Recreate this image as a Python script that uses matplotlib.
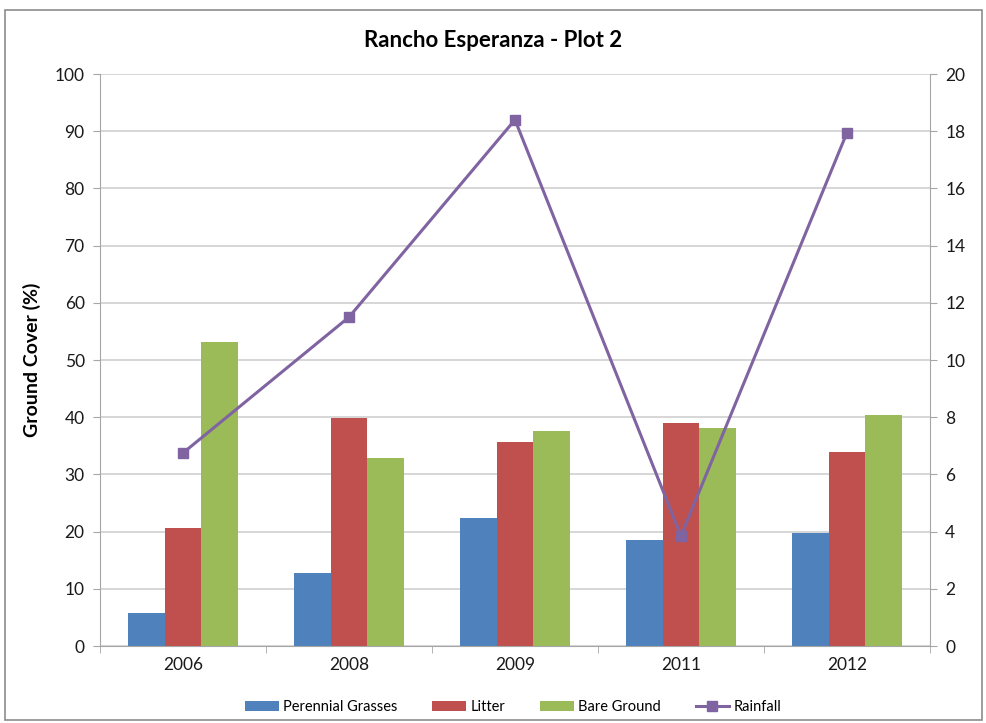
import matplotlib
matplotlib.use("Agg")
import matplotlib.pyplot as plt
import numpy as np
from matplotlib.patches import Rectangle

plt.rcParams['font.family'] = ['Lato', 'DejaVu Sans']

# data
years = ['2006', '2008', '2009', '2011', '2012']
perennial = [5.8, 12.8, 22.4, 18.5, 19.7]
litter = [20.7, 39.9, 35.6, 39.0, 34.0]
bare = [53.2, 32.9, 37.6, 38.2, 40.4]
rainfall = [6.75, 11.5, 18.4, 3.85, 17.95]

c_blue = '#4F81BD'
c_red = '#C0504D'
c_green = '#9BBB59'
c_purple = '#8064A2'
grid_c = '#D0D0D0'
axis_c = '#A6A6A6'

fig = plt.figure(figsize=(9.87, 7.23), dpi=100)
ax = fig.add_axes([0.1013, 0.1065, 0.8409, 0.7911])
ax2 = ax.twinx()

x = np.arange(len(years))
w = 0.222
ax.bar(x - w, perennial, w, color=c_blue, label='Perennial Grasses', zorder=2)
ax.bar(x, litter, w, color=c_red, label='Litter', zorder=2)
ax.bar(x + w, bare, w, color=c_green, label='Bare Ground', zorder=2)

ax2.plot(x, rainfall, color=c_purple, lw=2.2, marker='s', ms=7,
         label='Rainfall', zorder=3)

ax.set_xlim(-0.5, len(years) - 0.5)
ax.set_ylim(0, 100)
ax.set_yticks(np.arange(0, 101, 10))
ax2.set_ylim(0, 20)
ax2.set_yticks(np.arange(0, 21, 2))

ax.set_xticks(x)
ax.set_xticklabels(years)
ax.set_xticks(np.arange(-0.5, len(years)), minor=True)
ax.tick_params(axis='x', which='major', length=0, pad=8)
ax.tick_params(axis='x', which='minor', length=5, color=axis_c, direction='out')
ax.tick_params(axis='y', length=5, color=axis_c, pad=6)
ax2.tick_params(axis='y', length=5, color=axis_c, pad=6)
for a in (ax, ax2):
    a.tick_params(labelsize=12.5, labelcolor='#1a1a1a')

ax.yaxis.grid(True, color=grid_c, lw=1.2, zorder=0)
ax.set_axisbelow(True)

for a in (ax, ax2):
    a.spines['top'].set_visible(False)
    for s in ('left', 'right', 'bottom'):
        a.spines[s].set_color(axis_c)
ax.spines['right'].set_visible(False)
ax2.spines['left'].set_visible(False)
ax2.spines['bottom'].set_visible(False)

ax.set_ylabel('Ground Cover (%)', fontsize=14, fontweight='bold', labelpad=10)
fig.suptitle('Rancho Esperanza - Plot 2', fontsize=16, fontweight='bold', y=0.958)

h1, l1 = ax.get_legend_handles_labels()
h2, l2 = ax2.get_legend_handles_labels()
fig.legend(h1 + h2, l1 + l2, loc='center', bbox_to_anchor=(0.52, 0.022),
           ncol=4, frameon=False, fontsize=10.5, handlelength=2.3,
           handletextpad=0.3, columnspacing=2.4)

# outer chart frame
fig.patches.append(Rectangle((0.005, 0.004), 0.99, 0.982, transform=fig.transFigure,
                             fill=False, edgecolor='#8c8c8c', lw=1.2))

fig.savefig('out.png', dpi=100)
